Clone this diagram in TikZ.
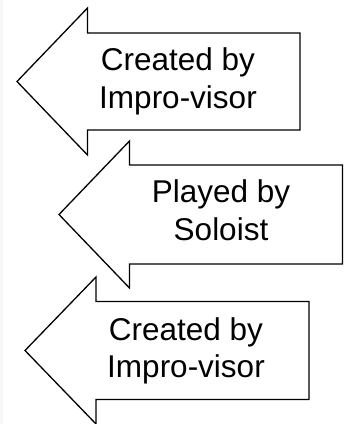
\documentclass[tikz,border=0pt]{standalone}
\usepackage{fontspec}
\setmainfont{Liberation Sans}
\begin{document}
\begin{tikzpicture}[x=1pt,y=-1pt,
  arrowbody/.style={draw=black,fill=white,line width=1.3pt,line join=miter},
  caption/.style={anchor=base,inner sep=0pt,font=\fontsize{31.5}{37}\selectfont}]
  \useasboundingbox (0,0) rectangle (344,424);
  \fill[black!3] (0,0) rectangle (3,424);
  % upper arrow
  \draw[arrowbody] (17,81.5) -- (87.5,8) -- (87.5,33) -- (300,33) -- (300,130)
    -- (87.5,130) -- (87.5,155) -- cycle;
  \node[caption] (a1) at (178,70.7) {Created by};
  \node[caption] (b1) at (178,108.3) {Impro-visor};
  % middle arrow
  \draw[arrowbody] (59,214.5) -- (129.5,141) -- (129.5,165) -- (342.5,165) -- (342.5,264)
    -- (129.5,264) -- (129.5,288) -- cycle;
  \node[caption] (a2) at (221,202.7) {Played by};
  \node[caption] (b2) at (221,240.7) {Soloist};
  % lower arrow
  \draw[arrowbody] (25,350.5) -- (96,277) -- (96,301.5) -- (309,301.5) -- (309,399.5)
    -- (96,399.5) -- (96,424) -- cycle;
  \node[caption] (a3) at (186,340) {Created by};
  \node[caption] (b3) at (186,377) {Impro-visor};
\end{tikzpicture}
\end{document}
